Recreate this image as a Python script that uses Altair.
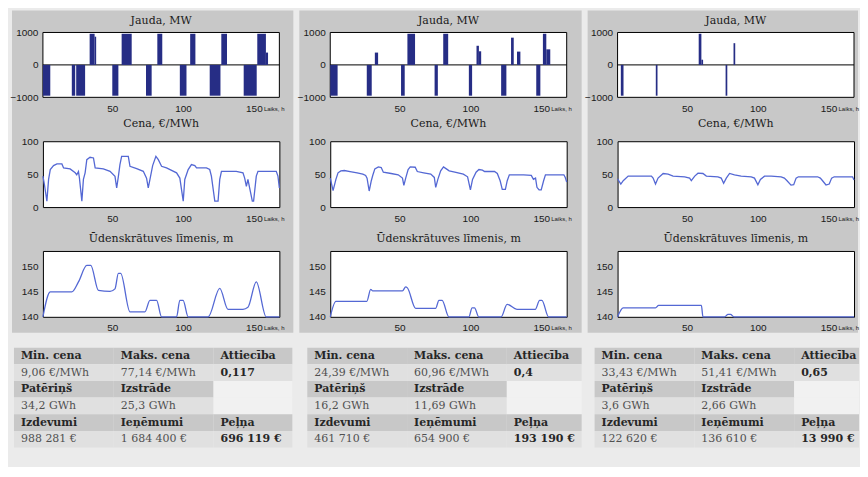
import altair as alt
import pandas as pd

# ---------------- data ----------------
HOUR_DOMAIN = [1, 168]

# Jauda (power) blocks: start hour, end hour, MW
P1_BAR_START = [1, 21.4, 24.5, 34, 37.5, 50, 56.6, 73.8, 81.8, 97.7, 105, 118.8, 127, 142.8, 152.4, 158.5]
P1_BAR_END = [6.2, 23.8, 30.8, 37.5, 38.6, 54.3, 63.7, 77.8, 85.3, 102.4, 108.7, 126.4, 131, 152, 158.5, 160]
P1_BAR_MW = [-950, -950, -950, 960, 870, -950, 960, -950, 960, -950, 960, -950, 960, -950, 960, 380]

P2_BAR_START = [1, 26.8, 32.5, 51, 55.5, 74.7, 80.8, 98.9, 104.3, 106, 121.7, 128.7, 132.9, 146.5, 151.2, 153.6]
P2_BAR_END = [6.2, 30.3, 34.8, 53.6, 60.9, 77, 84.3, 101.2, 106, 107.6, 125.4, 130.6, 135.3, 149.4, 153.6, 156.4]
P2_BAR_MW = [-950, -950, 380, -950, 960, -950, 960, -950, 590, 420, -950, 840, 410, -950, 960, 480]

P3_BAR_START = [3.3, 28, 58.3, 60.2, 77.3, 82.9]
P3_BAR_END = [5.2, 29.2, 60.2, 61.4, 78.5, 84.1]
P3_BAR_MW = [-950, -950, 960, 160, -950, 670]

# Cena (price), EUR/MWh
P1_PRICE_H = [1, 2, 3.8, 5, 6.2, 8.5, 10.9, 14.4, 15.6, 20.2, 23.8, 24.9, 26.1, 26.8, 28.5, 29.6, 30.8,
              32, 34.3, 36.7, 37.9, 43.7, 48.4, 51.9, 53.1, 54.3, 55.4, 56.6, 61.3, 62.5, 67.2, 71.9,
              74.2, 75.4, 76.6, 78.5, 80.8, 82.5, 84.8, 88.3, 95.4, 97.7, 100.1, 101.2, 103.6, 105.9,
              108.3, 109.5, 116.5, 118.8, 120, 122.4, 124.7, 125.9, 127.1, 137.6, 142.3, 143.5, 144.7,
              145.8, 147, 148.9, 149.8, 151.7, 152.9, 165.8, 167, 168]
P1_PRICE_V = [47, 35, 9, 42, 57, 63, 65.5, 65.5, 59.4, 58, 52, 49, 54, 44, 9, 42, 52,
              72, 75.6, 74.6, 59.4, 58, 54.3, 46.7, 29, 46.7, 64.5, 77.1, 77.1, 62, 58.4, 54.3,
              44, 29, 42, 63, 77.1, 72, 62, 59.4, 52, 44, 9, 42, 57, 64.5,
              63, 59.4, 59.4, 57, 47, 9, 9, 42, 54.3, 54.3, 52, 44, 31.5,
              42, 29, 9, 9, 47, 54.3, 54.3, 47, 29]

P2_PRICE_H = [1, 3, 5, 6.5, 8.5, 11, 15, 20, 24, 26, 27, 28.5, 30, 31, 32.5, 35, 37, 38.5, 44, 49,
              52, 53, 54.3, 56, 57.5, 61, 62.5, 67, 72, 74.5, 75.5, 77, 79, 81, 83, 85, 89, 95, 98, 100,
              101.5, 104, 106, 108.5, 110, 117, 119, 121, 122.5, 124.7, 126, 127.5, 137.6, 143, 144.5,
              146, 147, 148.5, 150, 151.7, 153, 166, 167, 168]
P2_PRICE_V = [44, 25, 42, 52, 55, 55.5, 54, 52, 50, 48, 44, 24.4, 40, 48, 58, 61, 60, 53, 51, 49,
              44, 33, 44, 57, 61, 60.5, 54, 52, 50, 45, 30, 42, 55, 61, 58, 55, 53, 50, 46, 26,
              42, 53, 57, 56, 54, 54, 51, 40, 27, 27, 40, 49, 49, 48, 42,
              44, 30, 26, 26, 40, 49, 49, 45, 38]

P3_PRICE_H = [1, 3.3, 5, 8.5, 24.9, 26.1, 27.8, 29.6, 33.2, 36.7, 40.2, 48.4, 51.9, 53.1, 55.5, 57.8,
              61.3, 63.7, 71.9, 74.2, 75.9, 77.8, 80.1, 83.6, 88.3, 95.4, 97.7, 100.1, 101.9, 104.8,
              109.5, 116.5, 118.8, 120.7, 123.5, 125.4, 127.1, 128.7, 142.3, 144.2, 145.8, 148.2,
              150.5, 152.2, 154, 167, 168]
P3_PRICE_V = [43, 35, 40, 47, 47, 44, 35, 44, 51, 50, 47, 46, 44, 40, 47, 51.4,
              51, 47, 46, 44, 36, 44, 51, 49, 47, 46, 44, 34, 42, 47,
              47, 46, 44, 40, 33.4, 34, 44, 46, 46, 44, 40, 33.5,
              35, 44, 46, 46, 41]

# Udenskratuves limenis (reservoir level), m
P1_LEVEL_H = [1, 6.2, 21.4, 26.1, 32, 34.8, 40.2, 48.4, 51.9, 54.3, 55.9, 62.5, 73, 76.6, 81.3, 84.8,
              95.4, 97.7, 100, 103.6, 117.7, 125.9, 131.7, 142.3, 145.8, 151.7, 158.7, 168]
P1_LEVEL_V = [140, 145, 145, 147, 150.3, 150.3, 145.3, 145.1, 145.6, 148.7, 148.7, 141, 141, 143.3, 143.3, 140,
              140, 143.3, 143.3, 140, 140, 145.7, 141.5, 141.5, 141.9, 147, 140, 140]

P2_LEVEL_H = [1, 5, 26.8, 29.6, 31, 52, 54.3, 55.5, 61.3, 75.4, 77.8, 80, 84.8, 98.9, 101.2, 102.9,
              105.9, 121.7, 125.9, 132.9, 145.8, 148.9, 150.5, 155.2, 168]
P2_LEVEL_V = [140, 143.1, 143.1, 145.5, 145.2, 145.2, 146, 145.8, 141.7, 141.7, 143.3, 143.3, 140, 140, 141.8, 141.8,
              140, 140, 142.5, 141.5, 141.5, 143.3, 143.3, 140, 140]

P3_LEVEL_H = [1, 5, 27.8, 30, 60.2, 61.3, 76.6, 79, 80.8, 83.2, 168]
P3_LEVEL_V = [140, 141.8, 141.8, 142.3, 142.3, 140, 140, 140.5, 140.5, 140, 140]

# Tables
TABLE_HEADERS = [["Min. cena", "Maks. cena", "Attiecība"],
                 ["Patēriņš", "Izstrāde", ""],
                 ["Izdevumi", "Ieņēmumi", "Peļņa"]]
P1_TABLE = [["9,06 €/MWh", "77,14 €/MWh", "0,117"],
            ["34,2 GWh", "25,3 GWh", ""],
            ["988 281 €", "1 684 400 €", "696 119 €"]]
P2_TABLE = [["24,39 €/MWh", "60,96 €/MWh", "0,4"],
            ["16,2 GWh", "11,69 GWh", ""],
            ["461 710 €", "654 900 €", "193 190 €"]]
P3_TABLE = [["33,43 €/MWh", "51,41 €/MWh", "0,65"],
            ["3,6 GWh", "2,66 GWh", ""],
            ["122 620 €", "136 610 €", "13 990 €"]]

# ---------------- style ----------------
PAGE_BG = "#ebebeb"
PANEL_BG = "#c8c8c8"
BAR_C = "#262d85"
LINE_C = "#5468d4"
SERIF = "DejaVu Serif"
SANS = "Liberation Sans"
W = 237
H_J, H_C, H_L, H_T = 65, 66, 66, 100


def x_axis():
    return alt.Axis(values=[50, 100, 150], ticks=False, domain=False, grid=False,
                    labelPadding=6, labelFont=SANS, labelFontSize=10, labelColor="#1a1a1a",
                    labelOverlap=False,
                    title="Laiks, h", titleFont=SANS, titleFontSize=6, titleFontWeight="normal",
                    titleColor="#1a1a1a", titleX=W - 16, titleY=11, titleAlign="left",
                    titleBaseline="middle", zindex=1)


def y_axis(vals):
    return alt.Axis(values=vals, format="d", ticks=False, domain=False,
                    grid=False, labelPadding=5, labelFont=SANS, labelFontSize=10,
                    labelOverlap=False, labelColor="#1a1a1a", title=None, zindex=1)


def ttl(text, offset=7):
    return alt.TitleParams(text=text, font=SERIF, fontSize=11, fontWeight="normal",
                           color="#1a1a1a", offset=offset, anchor="middle", frame="group")


XS = alt.Scale(domain=HOUR_DOMAIN, nice=False, zero=False)
ONE = pd.DataFrame({"k": [0]})
VIEW = alt.ViewBackground(fill="white", stroke="black", strokeWidth=1)


def jauda_chart(bs, be, bv, g_left, g_right):
    bg = alt.Chart(ONE).mark_rect(color=PANEL_BG).encode(
        x=alt.value(g_left), x2=alt.value(W + g_right), y=alt.value(-22), y2=alt.value(301))
    frame = alt.Chart(ONE).mark_rect(fill="white", stroke="black", strokeWidth=1).encode(
        x=alt.value(0), x2=alt.value(W), y=alt.value(0), y2=alt.value(H_J))
    zero = alt.Chart(ONE).mark_rule(color="black", strokeWidth=1).encode(
        x=alt.value(0), x2=alt.value(W), y=alt.value(H_J / 2))
    bars = alt.Chart(pd.DataFrame({"s": bs, "e": be, "mw": bv})).transform_calculate(
        base="0").mark_rect(color=BAR_C).encode(
        x=alt.X("s:Q", scale=XS, axis=x_axis()),
        x2="e",
        y=alt.Y("mw:Q", scale=alt.Scale(domain=[-1000, 1000], nice=False), axis=y_axis([-1000, 0, 1000])),
        y2="base:Q",
    )
    return alt.layer(bg, frame, zero, bars).properties(width=W, height=H_J, title=ttl("Jauda, MW", -15))


def price_chart(ph, pv):
    return alt.Chart(pd.DataFrame({"h": ph, "p": pv})).mark_line(color=LINE_C, strokeWidth=1.3).encode(
        x=alt.X("h:Q", scale=XS, axis=x_axis()),
        y=alt.Y("p:Q", scale=alt.Scale(domain=[0, 100], nice=False), axis=y_axis([0, 50, 100])),
    ).properties(width=W, height=H_C, title=ttl("Cena, €/MWh"), view=VIEW)


def level_chart(lh, lv):
    return alt.Chart(pd.DataFrame({"h": lh, "l": lv})).mark_line(
        color=LINE_C, strokeWidth=1.3, interpolate="monotone").encode(
        x=alt.X("h:Q", scale=XS, axis=x_axis()),
        y=alt.Y("l:Q", scale=alt.Scale(domain=[140, 153.2], nice=False, zero=False),
                axis=y_axis([140, 145, 150])),
    ).properties(width=W, height=H_L, title=ttl("Ūdenskrātuves līmenis, m"), view=VIEW)


def table_chart(tvals, t_left, t_right):
    rows = []
    for r in range(3):
        for c in range(3):
            h = TABLE_HEADERS[r][c]
            v = tvals[r][c]
            rows.append({"row": 2 * r, "col": c, "txt": h, "kind": "head" if h else "empty", "bold": 1})
            rows.append({"row": 2 * r + 1, "col": c, "txt": v, "kind": "val" if v else "empty",
                         "bold": 1 if c == 2 else 0})
    tdf = pd.DataFrame(rows)
    lim = (t_right - t_left) / 100.0
    txs = alt.Scale(domain=[0, 3], range=[t_left, t_left + 300], nice=False, zero=False)
    tys = alt.Scale(domain=[0, 6], range=[-13, 87], nice=False, zero=False)
    base = alt.Chart(tdf).transform_calculate(
        c1=f"min(datum.col + 1, {lim})", r1="datum.row + 1", rm="datum.row + 0.5")
    cells = base.mark_rect().encode(
        x=alt.X("col:Q", scale=txs, axis=None), x2="c1:Q",
        y=alt.Y("row:Q", scale=tys, axis=None), y2="r1:Q",
        color=alt.Color("kind:N", scale=alt.Scale(domain=["head", "val", "empty"],
                                                  range=["#c8c8c8", "#e0e0e0", "#f1f1f1"]), legend=None),
    )
    bold = base.transform_filter("datum.bold == 1").mark_text(
        font=SERIF, fontSize=11, fontWeight="bold", align="left", baseline="middle", dx=7,
        color="#262626").encode(x=alt.X("col:Q", scale=txs, axis=None),
                                y=alt.Y("rm:Q", scale=tys, axis=None), text="txt:N")
    normal = base.transform_filter("datum.bold == 0").mark_text(
        font=SERIF, fontSize=11, align="left", baseline="middle", dx=7,
        color="#505050").encode(x=alt.X("col:Q", scale=txs, axis=None),
                                y=alt.Y("rm:Q", scale=tys, axis=None), text="txt:N")
    return alt.layer(cells, bold, normal).properties(width=W, height=H_T)


charts = [
    jauda_chart(P1_BAR_START, P1_BAR_END, P1_BAR_MW, -31, 14),
    jauda_chart(P2_BAR_START, P2_BAR_END, P2_BAR_MW, -31, 15),
    jauda_chart(P3_BAR_START, P3_BAR_END, P3_BAR_MW, -30, 4),
    price_chart(P1_PRICE_H, P1_PRICE_V),
    price_chart(P2_PRICE_H, P2_PRICE_V),
    price_chart(P3_PRICE_H, P3_PRICE_V),
    level_chart(P1_LEVEL_H, P1_LEVEL_V),
    level_chart(P2_LEVEL_H, P2_LEVEL_V),
    level_chart(P3_LEVEL_H, P3_LEVEL_V),
    table_chart(P1_TABLE, -29, 250),
    table_chart(P2_TABLE, -23, 252),
    table_chart(P3_TABLE, -23, 242),
]

chart = alt.concat(*charts, columns=3, spacing={"row": 44, "column": 51}, bounds="flush").properties(
    background=PAGE_BG,
    padding={"left": 1, "top": 2, "right": 0, "bottom": 6},
).configure_view(strokeWidth=0)

chart.save("out.html", embed_options={"renderer": "svg", "actions": False})
